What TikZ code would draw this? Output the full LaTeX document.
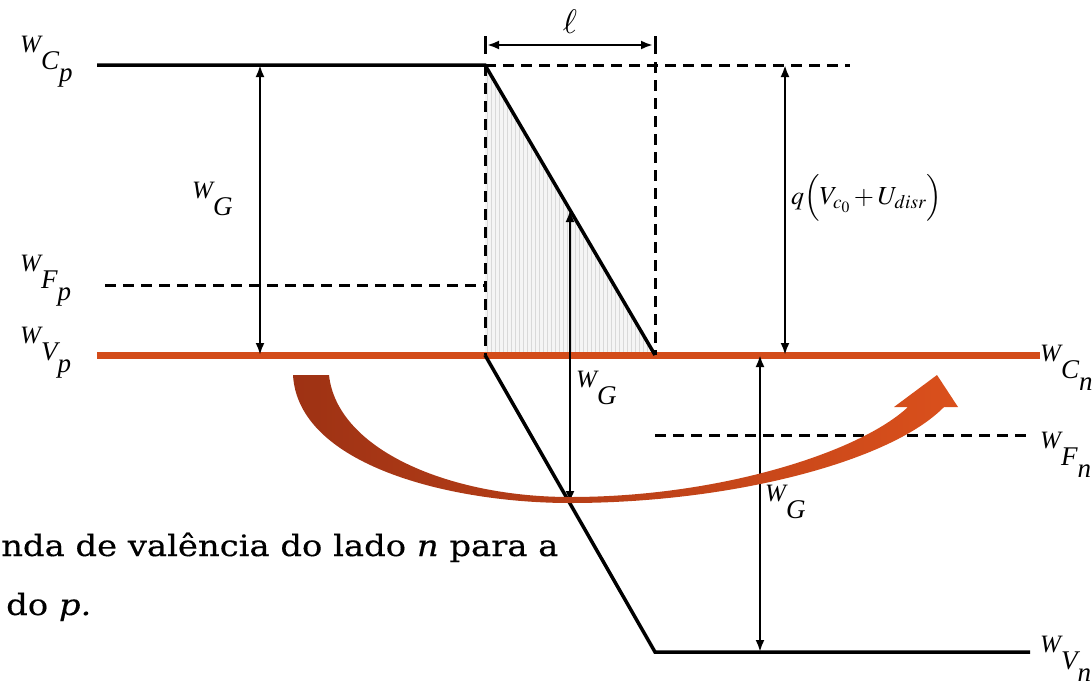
\documentclass[tikz,border=0pt]{standalone}
\usepackage{mathptmx}
\usepackage[no-math]{fontspec}
\newfontfamily\slabfont[FakeStretch=1.15,FakeBold=0.4]{DejaVu Serif}
\newfontfamily\tms{Liberation Serif}
\usetikzlibrary{arrows.meta}

\definecolor{bandorange}{RGB}{211,76,26}
\definecolor{arrowdark}{RGB}{158,50,20}
\definecolor{arrowlight}{RGB}{218,80,28}

% W with a big subscript and sub-subscript, as the picture sets them
\newcommand{\wlab}[2]{{\tms\itshape\fontsize{25}{25}\selectfont W\raisebox{-17pt}{\fontsize{27}{27}\selectfont #1}\raisebox{-29pt}{\fontsize{27}{27}\selectfont #2}}}

\begin{document}
\begin{tikzpicture}[x=1pt,y=-1pt,
    level/.style={line width=3.5pt},
    dashlevel/.style={line width=3pt,dash pattern=on 11pt off 7pt},
    gap/.style={line width=2.5pt,{Latex[length=12pt,width=9pt]}-{Latex[length=12pt,width=9pt]}},
    lab/.style={inner sep=0pt,anchor=west}]
    \useasboundingbox (0,0) rectangle (1092,691);
    \clip (0,0) rectangle (1092,691);

    % points of the bands
    \coordinate (cp0) at (97,65);
    \coordinate (cp1) at (485,65);
    \coordinate (cn0) at (655,355);
    \coordinate (vp0) at (97,355);
    \coordinate (vp1) at (485,355);
    \coordinate (vn0) at (655,652);
    \coordinate (vn1) at (1030,652);

    % shaded space charge region
    \begin{scope}
    \clip (cp1) -- (vp1) -- (cn0) -- cycle;
    \fill[gray!8] (485,60) rectangle (655,360);
    \foreach \x in {487,491,...,655}
        \draw[gray!30, line width=1pt] (\x,60) -- (\x,360);
    \end{scope}

    % band edges
    \draw[bandorange, line width=7pt] (vp0) -- (1040,355);
    \draw[level] (cp0) -- (cp1) -- (cn0);
    \draw[level] (vp1) -- (vn0) -- (vn1);

    % dashed lines
    \draw[dashlevel] (cp1) -- (850,65);
    \draw[dashlevel] (105,285) -- (485,285);
    \draw[dashlevel] (655,435) -- (1030,435);
    \draw[dashlevel] (cp1) -- (vp1);
    \draw[dashlevel] (655,62) -- (cn0);

    % width of the junction
    \draw[line width=3pt] (485,36) -- (485,54);
    \draw[line width=3pt] (655,36) -- (655,54);
    \draw[gap] (487,45) -- (653,45);
    \node[inner sep=0pt] (ell) at (570,22) {\fontsize{34}{34}\selectfont$\ell$};

    % energy gaps
    \coordinate (ga) at (260,65);
    \coordinate (gb) at (260,355);
    \draw[gap] (ga) -- (gb);
    \coordinate (gc) at (570,210);
    \coordinate (gd) at (570,503);
    \draw[gap] (gd) -- (gc);
    \coordinate (ge) at (760,355);
    \coordinate (gf) at (760,652);
    \draw[gap] (gf) -- (ge);
    \coordinate (qa) at (785,65);
    \coordinate (qb) at (785,355);
    \draw[gap] (qa) -- (qb);

    \node[lab] (wg1) at (192,205) {\wlab{G}{}};
    \node[lab] (wg2) at (576,394) {\wlab{G}{}};
    \node[lab] (wg3) at (765,508) {\wlab{G}{}};
    \node[inner sep=0pt, anchor=west] (qv) at (791,198) {\fontsize{26}{26}\selectfont$q\Bigl(V_{c_0}+U_{disr}\Bigr)$};

    % level names
    \node[lab] (wcp) at (20,62) {\wlab{C}{p}};
    \node[lab] (wfp) at (20,281) {\wlab{F}{p}};
    \node[lab] (wvp) at (20,353) {\wlab{V}{p}};
    \node[lab] (wcn) at (1040,368) {\wlab{C}{n}};
    \node[lab] (wfn) at (1040,455) {\wlab{F}{n}};
    \node[lab] (wvn) at (1040,659) {\wlab{V}{n}};

    % text of the slide
    \node[anchor=base west, inner sep=0pt] (txt1) at (1,556) {\slabfont\fontsize{29.4}{29.4}\selectfont nda de valência do lado \textit{n} para a};
    \node[anchor=base west, inner sep=0pt] (txt2) at (6,615) {\slabfont\fontsize{29.4}{29.4}\selectfont do \textit{p.}};

    % electron path
    \shade[left color=arrowdark, right color=arrowlight]
        (293,375) .. controls (298,465) and (450,503) .. (570,503)
        .. controls (730,503) and (890,462) .. (944,407)
        -- (958,407) -- (937,375) -- (894,407) -- (908,407)
        .. controls (860,452) and (720,497) .. (570,497)
        .. controls (450,497) and (337,450) .. (329,375) -- cycle;
\end{tikzpicture}
\end{document}
